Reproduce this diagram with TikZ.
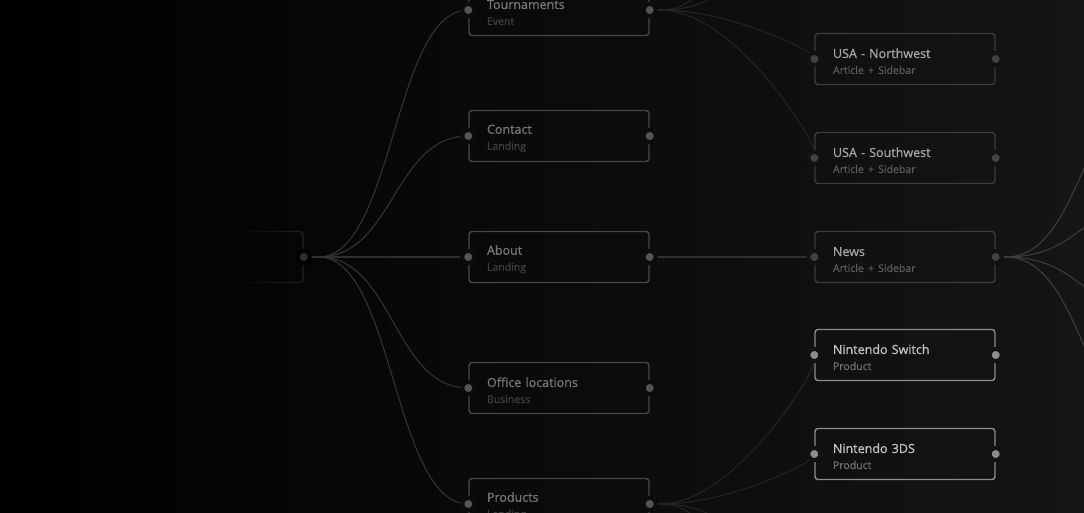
\documentclass[tikz,border=0pt]{standalone}
\usepackage{fontspec}
\setmainfont{Open Sans}[FakeBold=0.9]
\usetikzlibrary{fadings}

\definecolor{bgright}{HTML}{151515}
\definecolor{rootline}{HTML}{2e2e2e}
\definecolor{midline}{HTML}{484848}
\definecolor{midtitle}{HTML}{767676}
\definecolor{midsub}{HTML}{3e3e3e}
\definecolor{middot}{HTML}{555555}
\definecolor{dimline}{HTML}{3c3c3c}
\definecolor{dimtitle}{HTML}{a4a4a4}
\definecolor{dimsub}{HTML}{5a5a5a}
\definecolor{dimdot}{HTML}{424242}
\definecolor{litline}{HTML}{8c8c8c}
\definecolor{littitle}{HTML}{c2c2c2}
\definecolor{litsub}{HTML}{6e6e6e}
\definecolor{litdot}{HTML}{8c8c8c}
\definecolor{ringmid}{HTML}{0c0c0c}
\definecolor{ringright}{HTML}{121212}
\colorlet{pagesub}{midsub}

% root box only shows near its right edge
\pgfdeclarehorizontalshading{rootfadeshade}{100bp}{color(0bp)=(black); color(55bp)=(black); color(85bp)=(white); color(100bp)=(white)}
\pgfdeclarefading{rootfade}{\pgfuseshading{rootfadeshade}}

\newcommand{\subline}[1]{{\fontsize{10.5}{13}\selectfont\color{pagesub}#1}}

\begin{document}
\begin{tikzpicture}[x=1pt,y=-1pt,
    page/.style={rectangle, rounded corners=3pt, line width=1.4pt,
      minimum width=180pt, minimum height=51pt, text width=144pt,
      inner xsep=18pt, inner ysep=0pt, align=left,
      font=\fontsize{12.5}{16}\selectfont,
      execute at begin node=\rule{0pt}{14pt}},
    sub/.code={\colorlet{pagesub}{#1}},
    mid/.style={page, draw=midline, text=midtitle, sub=midsub},
    dim/.style={page, draw=dimline, text=dimtitle, sub=dimsub},
    lit/.style={page, draw=litline, text=littitle, sub=litsub},
    wire/.style={line width=1.1pt, draw=#1},
    dotroot/.style={fill=rootline, draw=black, line width=4pt},
    dotmid/.style={fill=middot, draw=ringmid, line width=4pt},
    dotdim/.style={fill=dimdot, draw=ringright, line width=4pt},
    dotlit/.style={fill=litdot, draw=ringright, line width=4pt}]

  % Background
  \useasboundingbox (0,0) rectangle (1084,512);
  \shade[left color=black, right color=bgright] (0,0) rectangle (1084,512);

  % Root
  \node[page, draw=rootline, path fading=rootfade] (home) at (213,257) {};

  % Sections
  \node[mid] (tournaments) at (559,10) {Tournaments\\\subline{Event}};
  \node[mid] (contact) at (559,136) {Contact\\\subline{Landing}};
  \node[mid] (about) at (559,257) {About\\\subline{Landing}};
  \node[mid] (office) at (559,388) {Office locations\\\subline{Business}};
  \node[mid] (products) at (559,504) {Products\\\subline{Landing}};

  % Pages
  \node[dim] (northwest) at (905,59) {USA - Northwest\\\subline{Article + Sidebar}};
  \node[dim] (southwest) at (905,158) {USA - Southwest\\\subline{Article + Sidebar}};
  \node[dim] (news) at (905,257) {News\\\subline{Article + Sidebar}};
  \node[lit] (switch) at (905,355) {Nintendo Switch\\\subline{Product}};
  \node[lit] (threeds) at (905,454) {Nintendo 3DS\\\subline{Product}};

  % Fan points and targets outside the frame
  \coordinate (homefan) at ([xshift=15pt]home.east);
  \coordinate (tournfan) at ([xshift=11pt]tournaments.east);
  \coordinate (prodfan) at ([xshift=11pt]products.east);
  \coordinate (newsfan) at ([xshift=10pt]news.east);
  \coordinate (tourn-a) at (815,-150);
  \coordinate (tourn-b) at (815,-48);
  \coordinate (prod-a) at (815,560);
  \coordinate (prod-b) at (815,662);
  \coordinate (news-a) at (1161,83);
  \coordinate (news-b) at (1161,199);
  \coordinate (news-c) at (1161,315);
  \coordinate (news-d) at (1161,431);

  % Root wires
  \draw[wire=rootline] (home.east) -- (homefan) -- (about.west);
  \foreach \t in {tournaments,contact,office,products}
    \draw[wire=rootline!80!midline] (homefan) .. controls +(75,0) and +(-75,0) .. (\t.west);

  % Section wires
  \draw[wire=dimline!80!black] (about.east) -- (news.west);
  \draw[wire=midline!120] (tournaments.east) -- (tournfan);
  \foreach \t in {tourn-a,tourn-b,northwest,southwest}
    \draw[wire=midline!120] (tournfan) .. controls +(77,0) and +(-77,0) .. (\t);
  \draw[wire=midline!120] (products.east) -- (prodfan);
  \foreach \t in {prod-a,prod-b,switch,threeds}
    \draw[wire=midline!120] (prodfan) .. controls +(77,0) and +(-77,0) .. (\t);

  % Page wires
  \draw[wire=dimline] (news.east) -- (newsfan);
  \foreach \t in {news-a,news-b,news-c,news-d}
    \draw[wire=dimline] (newsfan) .. controls +(78,0) and +(-78,0) .. (\t);

  % Dots
  \filldraw[dotroot] (home.east) circle (6pt);
  \foreach \n in {tournaments,contact,about,office,products}
    \filldraw[dotmid] (\n.west) circle (6pt) (\n.east) circle (6pt);
  \foreach \n in {northwest,southwest,news}
    \filldraw[dotdim] (\n.west) circle (6pt) (\n.east) circle (6pt);
  \foreach \n in {switch,threeds}
    \filldraw[dotlit] (\n.west) circle (6pt) (\n.east) circle (6pt);
\end{tikzpicture}
\end{document}
